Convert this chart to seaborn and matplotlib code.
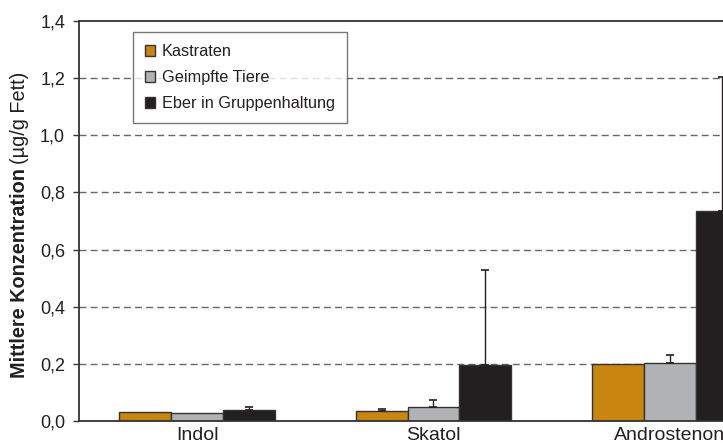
import numpy as np
import pandas as pd
import matplotlib
matplotlib.use("Agg")
import matplotlib.pyplot as plt
import seaborn as sns

# values (µg/g fat)
stoffe = ["Indol", "Skatol", "Androstenon"]
gruppen = ["Kastraten", "Geimpfte Tiere", "Eber in Gruppenhaltung"]
kastraten = [0.030, 0.035, 0.198]
geimpfte = [0.027, 0.049, 0.204]
eber = [0.038, 0.197, 0.735]
# upper error bar lengths (None = no error bar drawn)
err_kastraten = [None, 0.008, None]
err_geimpfte = [None, 0.025, 0.028]
err_eber = [0.012, 0.330, 0.470]

farben = ["#C8860F", "#B1B2B5", "#231F20"]

df = pd.DataFrame({
    "Stoff": stoffe * 3,
    "Gruppe": [g for g in gruppen for _ in stoffe],
    "Wert": kastraten + geimpfte + eber,
})

sns.set_style("white")
plt.rcParams["font.family"] = ["Liberation Sans", "DejaVu Sans"]

fig = plt.figure(figsize=(7.23, 4.45), dpi=100)
# plot area runs past the right edge of the picture, as in the original
ax = fig.add_axes([79 / 723, 1 - 421 / 445, 709 / 723, 400 / 445])

sns.barplot(data=df, x="Stoff", y="Wert", hue="Gruppe", palette=farben,
            width=0.66, edgecolor="#333333", linewidth=1.0, errorbar=None,
            saturation=1, ax=ax, zorder=2)

# one-sided error bars
for cont, errs in zip(ax.containers, [err_kastraten, err_geimpfte, err_eber]):
    for bar, e in zip(cont, errs):
        if e is None:
            continue
        xc = bar.get_x() + bar.get_width() / 2
        h = bar.get_height()
        ax.errorbar(xc, h, yerr=[[0], [e]], fmt="none", ecolor="#231F20",
                    elinewidth=1.0, capsize=2.6, capthick=1.2, zorder=3)

ax.set_xlim(-0.5, 2.5)
ax.set_ylim(0, 1.4)
ax.set_yticks(np.arange(0, 1.41, 0.2))
ax.set_yticklabels([f"{v:.1f}".replace(".", ",") for v in np.arange(0, 1.41, 0.2)])
ax.set_axisbelow(True)
for v in np.arange(0.2, 1.21, 0.2):
    ax.axhline(v, color="#666666", linewidth=1.0, linestyle=(0, (5, 3)), zorder=0)

ax.tick_params(axis="y", length=4.5, width=1.0, color="#333333", pad=5.5,
               labelsize=13, labelcolor="#231F20", direction="out", left=True)
ax.tick_params(axis="x", length=0, pad=4, labelsize=14, labelcolor="#231F20")

for s in ["left", "bottom", "top"]:
    ax.spines[s].set_visible(True)
    ax.spines[s].set_color("#333333")
    ax.spines[s].set_linewidth(1.3)
ax.spines["right"].set_visible(False)

ax.set_xlabel("")
ax.set_ylabel("")

# y label: bold part + normal part, stacked along the rotated baseline
t1 = fig.text(20 / 723, 1 - 378 / 445, "Mittlere Konzentration", rotation=90,
              fontsize=14.3, fontweight="bold", color="#231F20",
              ha="center", va="bottom")
fig.canvas.draw()
bb = t1.get_window_extent()
fig.text(20 / 723, (bb.y1 + 4) / 445, "(µg/g Fett)", rotation=90,
         fontsize=14.3, color="#231F20", ha="center", va="bottom")

leg = ax.legend(loc="upper left", bbox_to_anchor=(133 / 723, 1 - 32 / 445),
                bbox_transform=fig.transFigure, borderaxespad=0,
                fontsize=11.7, frameon=True, fancybox=False,
                edgecolor="#555555", handlelength=0.62, handleheight=0.62,
                handletextpad=0.4, labelspacing=0.68, borderpad=0.75)
leg.get_frame().set_linewidth(1.0)
for t in leg.get_texts():
    t.set_color("#231F20")

fig.savefig("out.png", dpi=100)
